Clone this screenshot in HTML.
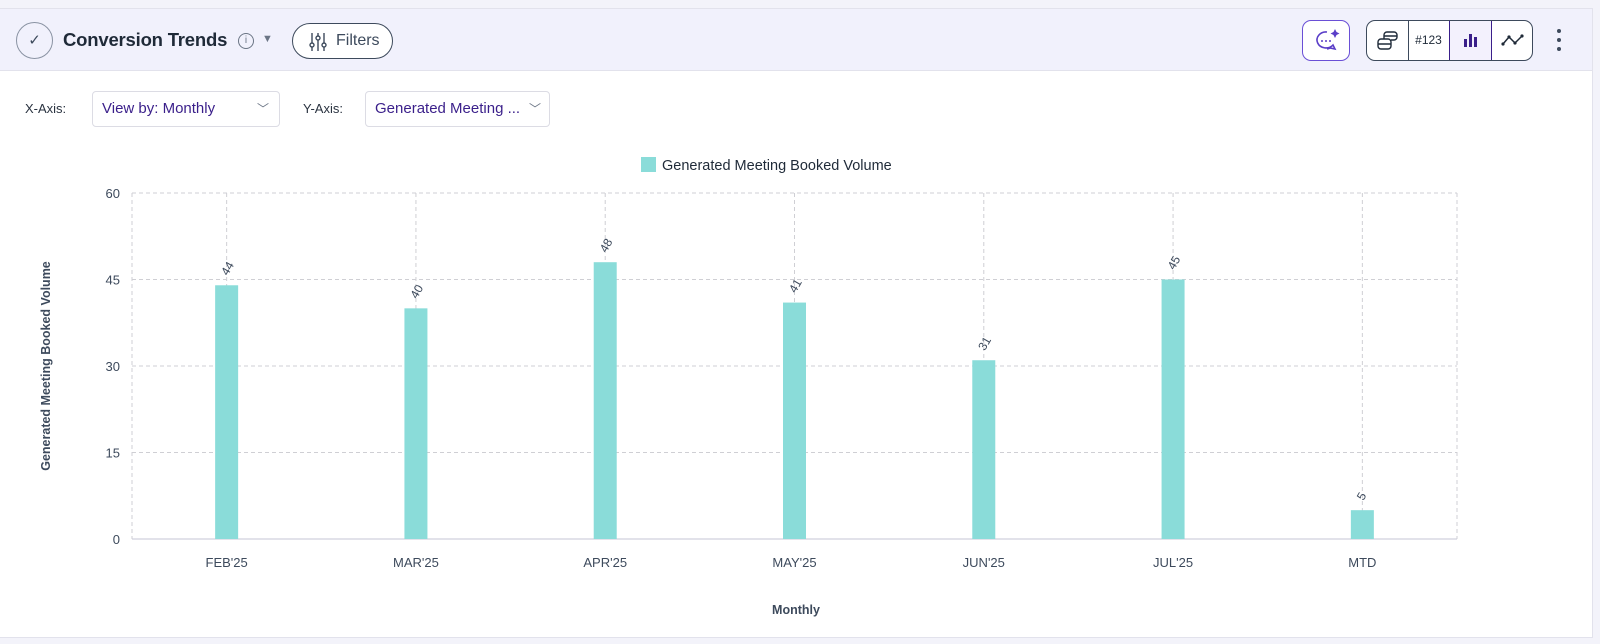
<!DOCTYPE html>
<html><head><meta charset="utf-8"><style>
body{margin:0;width:1600px;height:644px;background:#f3f3fa;font-family:"Liberation Sans",sans-serif;overflow:hidden;position:relative}
.card{position:absolute;left:0;top:8px;width:1593px;height:630px;background:#fff;border:1px solid #e2e2ec;border-left:none;box-sizing:border-box}
.hdr{position:absolute;left:0;top:0;width:100%;height:62px;background:#f1f1fc;border-bottom:1px solid #e2e2ec;box-sizing:border-box}
.btn{position:absolute;border:1px solid #3d4a5c;border-radius:9px;background:#fff;box-sizing:border-box}
.sel{position:absolute;top:82px;height:36px;border:1px solid #dcdce4;border-radius:4px;box-sizing:border-box;color:#3a1f8a;font-size:15px;line-height:34px;padding-left:9px;background:#fff}
.lbl{position:absolute;top:92px;font-size:13px;color:#2a3340}
</style></head><body>
<div class="card">
 <div class="hdr">
  <div style="position:absolute;left:16px;top:13px;width:37px;height:37px;border:1px solid #8a93a3;border-radius:50%;box-sizing:border-box;text-align:center;line-height:35px;color:#3d4a5c;font-size:15px">✓</div>
  <div style="position:absolute;left:63px;top:20px;font-size:18.5px;font-weight:bold;color:#1f2a38;letter-spacing:-0.2px">Conversion Trends</div>
  <div style="position:absolute;left:238px;top:24px;width:14px;height:14px;border:1px solid #6b7585;border-radius:50%;font-size:10px;text-align:center;line-height:14px;color:#6b7585">i</div>
  <div style="position:absolute;left:262px;top:24px;font-size:11px;color:#6b7585">▼</div>
  <div class="btn" style="left:292px;top:14px;width:101px;height:36px;border-radius:18px;font-size:16px;color:#3d4a5c;line-height:34px;padding-left:43px">Filters
   <svg style="position:absolute;left:16px;top:8px" width="18" height="20"><g stroke="#3d4a5c" stroke-width="1.4" fill="none"><line x1="3" y1="1" x2="3" y2="19"/><line x1="9" y1="1" x2="9" y2="19"/><line x1="15" y1="1" x2="15" y2="19"/><circle cx="3" cy="13" r="2" fill="#fff"/><circle cx="9" cy="6" r="2" fill="#fff"/><circle cx="15" cy="13" r="2" fill="#fff"/></g></svg></div>
  <div class="btn" style="left:1302px;top:11px;width:48px;height:41px;border-color:#6a4fd6">
   <svg width="46" height="39"><path d="M24 11a9 8 0 1 0 6 13l2 4-5-1a9 8 0 0 1-3 1" fill="none" stroke="#5a3ec8" stroke-width="1.6"/><circle cx="19" cy="20" r="1" fill="#5a3ec8"/><circle cx="23" cy="20" r="1" fill="#5a3ec8"/><circle cx="27" cy="20" r="1" fill="#5a3ec8"/><path d="M32 8l1.5 3 3 1.5-3 1.5-1.5 3-1.5-3-3-1.5 3-1.5z" fill="#5a3ec8"/></svg></div>
  <div class="btn" style="left:1366px;top:11px;width:167px;height:41px;overflow:hidden">
   <div style="position:absolute;left:0;top:0;width:41px;height:39px;border-right:1px solid #3d4a5c">
    <svg width="41" height="39"><g fill="none" stroke="#1f2a38" stroke-width="1.4"><rect x="11" y="18" width="13" height="10" rx="3"/><line x1="11" y1="23" x2="24" y2="23"/><path d="M17 18v-4a3 3 0 0 1 3-3h7a3 3 0 0 1 3 3v2a3 3 0 0 1-3 3h-3"/><line x1="17" y1="15" x2="30" y2="15"/></g></svg></div>
   <div style="position:absolute;left:41px;top:0;width:41px;height:39px;border-right:1px solid #3d4a5c;text-align:center;line-height:39px;font-size:12px;color:#1f2a38">#123</div>
   <div style="position:absolute;left:82px;top:0;width:43px;height:39px;background:#f3f1fd;border-left:1px solid #3a1f8a;border-right:1px solid #3a1f8a;box-sizing:border-box">
    <div style="position:absolute;left:14px;top:18px;width:3px;height:8px;background:#3a1f8a"></div><div style="position:absolute;left:19px;top:13px;width:3px;height:13px;background:#3a1f8a"></div><div style="position:absolute;left:24px;top:16px;width:3px;height:10px;background:#3a1f8a"></div></div>
   <div style="position:absolute;left:125px;top:0;width:41px;height:39px">
    <svg width="41" height="39"><polyline points="11,23 17,16 23,22 30,15" fill="none" stroke="#1f2a38" stroke-width="1.5"/><g fill="#1f2a38"><circle cx="11" cy="23" r="1.6"/><circle cx="17" cy="16" r="1.6"/><circle cx="23" cy="22" r="1.6"/><circle cx="30" cy="15" r="1.6"/></g></svg></div>
  </div>
  <div style="position:absolute;left:1554px;top:20px;width:10px;height:24px">
   <div style="position:absolute;left:3px;top:0;width:4px;height:4px;border-radius:2px;background:#3d4a5c"></div>
   <div style="position:absolute;left:3px;top:9px;width:4px;height:4px;border-radius:2px;background:#3d4a5c"></div>
   <div style="position:absolute;left:3px;top:18px;width:4px;height:4px;border-radius:2px;background:#3d4a5c"></div></div>
 </div>
 <div class="lbl" style="left:25px">X-Axis:</div>
 <div class="sel" style="left:92px;width:188px">View by: Monthly<span style="position:absolute;right:10px;color:#6b7585;font-size:12px">﹀</span></div>
 <div class="lbl" style="left:303px">Y-Axis:</div>
 <div class="sel" style="left:365px;width:185px">Generated Meeting ...<span style="position:absolute;right:8px;color:#6b7585;font-size:12px">﹀</span></div>
</div>
<svg id="chart" width="1600" height="644" style="position:absolute;left:0;top:0"></svg>
<script>
const categories=["FEB'25","MAR'25","APR'25","MAY'25","JUN'25","JUL'25","MTD"];
const values=[44,40,48,41,31,45,5];
const yTicks=[0,15,30,45,60];
const svg=document.getElementById('chart');
const NS='http://www.w3.org/2000/svg';
const L=132,R=1457,T=193,B=539,yMax=60;
const bw=(R-L)/categories.length;
const x=i=>L+bw*(i+0.5);
const y=v=>B-(v/yMax)*(B-T);
function mk(t,a,txt){const e=document.createElementNS(NS,t);for(const k in a)e.setAttribute(k,a[k]);if(txt!==undefined)e.textContent=txt;svg.appendChild(e);return e;}
const F='"Liberation Sans",sans-serif';
yTicks.forEach(v=>{
 const g=mk('line',{x1:L,x2:R,y1:y(v),y2:y(v),stroke:v===0?'#e2e2ea':'#cfcfd4','stroke-dasharray':v===0?'':'4,3','stroke-width':v===0?2:1});
 
 
 const t=mk('text',{x:L-12,y:y(v)+5,'text-anchor':'end','font-size':13,fill:'#3d4a5c','font-family':F},v);
 
 
});
[L,R].forEach(xx=>{const e=mk('line',{x1:xx,x2:xx,y1:T,y2:B,stroke:'#cfcfd4','stroke-dasharray':'4,3'});
 
 });
categories.forEach((c,i)=>{
 const g=mk('line',{x1:x(i),x2:x(i),y1:T,y2:B,stroke:'#cfcfd4','stroke-dasharray':'4,3'});
 
 
 const b=mk('rect',{x:x(i)-11.5,y:y(values[i]),width:23,height:B-y(values[i]),fill:'#8adcd9'});
 
 
 const vl=mk('text',{x:0,y:0,'font-size':12,fill:'#3d4a5c','font-family':F,'text-anchor':'start',transform:`translate(${x(i)+1},${y(values[i])-9}) rotate(-60)`},values[i]);
 
 
 const t=mk('text',{x:x(i),y:B+28,'text-anchor':'middle','font-size':13,fill:'#3d4a5c','font-family':F},c);
 
 
});
const lg=mk('rect',{x:641,y:157,width:15,height:15,fill:'#8adcd9'});


const lt=mk('text',{x:662,y:170,'font-size':14.5,fill:'#1f2a38','font-family':F},'Generated Meeting Booked Volume');


const xt=mk('text',{x:796,y:614,'text-anchor':'middle','font-size':12.5,'font-weight':'bold',fill:'#3d4a5c','font-family':F},'Monthly');


const yt=mk('text',{x:0,y:0,'text-anchor':'middle','font-size':12.5,'font-weight':'bold',fill:'#3d4a5c','font-family':F,transform:'translate(50,366) rotate(-90)'},'Generated Meeting Booked Volume');


</script>
</body></html>
